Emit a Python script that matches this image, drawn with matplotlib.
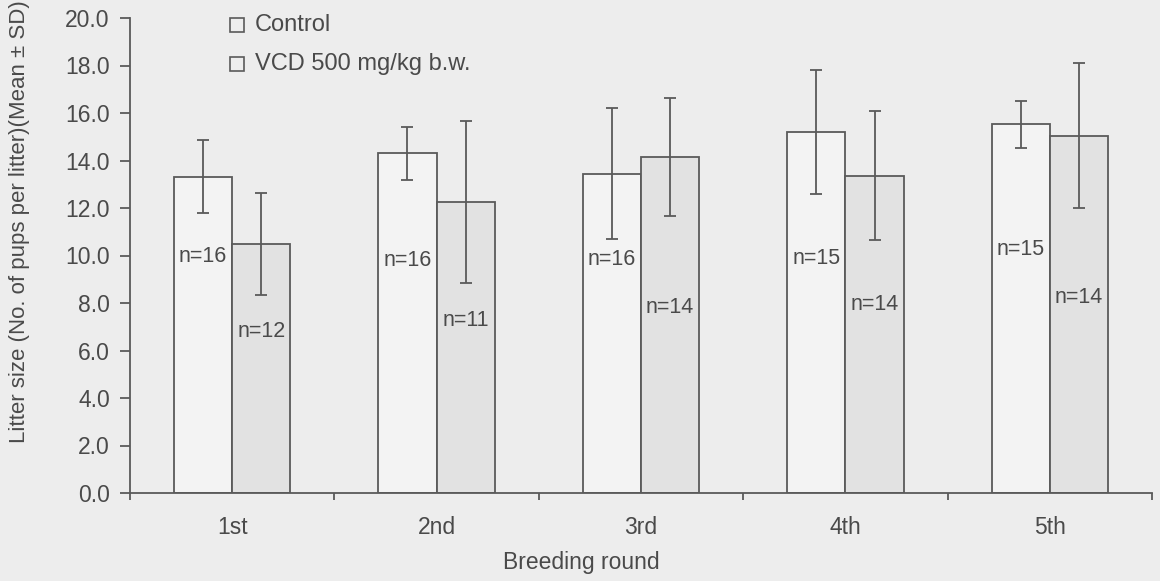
import numpy as np
import matplotlib.pyplot as plt
from matplotlib.patches import Rectangle

plt.rcParams['font.family'] = ['Liberation Sans', 'DejaVu Sans']

rounds = ['1st', '2nd', '3rd', '4th', '5th']
control_mean = [13.32, 14.30, 13.45, 15.19, 15.52]
control_sd = [1.54, 1.13, 2.77, 2.62, 0.99]
control_n = ['n=16', 'n=16', 'n=16', 'n=15', 'n=15']
control_n_y = [9.95, 9.81, 9.84, 9.88, 10.26]

vcd_mean = [10.48, 12.24, 14.16, 13.36, 15.05]
vcd_sd = [2.14, 3.41, 2.48, 2.71, 3.04]
vcd_n = ['n=12', 'n=11', 'n=14', 'n=14', 'n=14']
vcd_n_y = [6.82, 7.28, 7.80, 7.92, 8.24]

y_ticks = [0, 2, 4, 6, 8, 10, 12, 14, 16, 18, 20]

bg = '#ededed'
edge = '#5a5a5a'
text_c = '#4a4a4a'
ctrl_face = '#f3f3f3'
vcd_face = '#e2e2e2'
fs = 16.5

fig = plt.figure(figsize=(11.6, 5.81), dpi=100, facecolor=bg)
ax = fig.add_axes([130 / 1160, 1 - 493 / 581, 1022 / 1160, 475 / 581])
ax.set_facecolor(bg)

x = np.arange(len(rounds))
w = 0.285
err_kw = dict(ecolor=edge, elinewidth=1.3, capsize=4, capthick=1.3)
ax.bar(x - w / 2, control_mean, w, yerr=control_sd, color=ctrl_face,
       edgecolor=edge, linewidth=1.3, error_kw=err_kw, zorder=2)
ax.bar(x + w / 2, vcd_mean, w, yerr=vcd_sd, color=vcd_face,
       edgecolor=edge, linewidth=1.3, error_kw=err_kw, zorder=2)

for i in range(len(rounds)):
    ax.text(x[i] - w / 2, control_n_y[i], control_n[i], ha='center',
            va='center', fontsize=15.5, color=text_c, zorder=3)
    ax.text(x[i] + w / 2, vcd_n_y[i], vcd_n[i], ha='center',
            va='center', fontsize=15.5, color=text_c, zorder=3)

ax.set_xlim(-0.5, len(rounds) - 0.5)
ax.set_ylim(0, 20)
ax.set_yticks(y_ticks)
ax.set_yticklabels([f'{v:.1f}' for v in y_ticks])

# category labels centred, ticks on category boundaries
ax.set_xticks(x)
ax.set_xticklabels(rounds)
ax.set_xticks(np.arange(-0.5, len(rounds), 1.0), minor=True)
ax.tick_params(axis='x', which='major', length=0, pad=16.5, labelsize=fs,
               labelcolor=text_c)
ax.tick_params(axis='x', which='minor', length=5, width=1.3, color=edge,
               direction='out')
ax.tick_params(axis='y', length=7, width=1.3, color=edge, pad=7.5,
               labelsize=fs, labelcolor=text_c)

for s in ['top', 'right']:
    ax.spines[s].set_visible(False)
for s in ['left', 'bottom']:
    ax.spines[s].set_color(edge)
    ax.spines[s].set_linewidth(1.3)

fig.text(581 / 1160, 1 - 563 / 581, 'Breeding round', ha='center',
         va='center', fontsize=fs, color=text_c)
fig.text(20 / 1160, 1 - 222 / 581,
         'Litter size (No. of pups per litter)(Mean \u00b1 SD)',
         rotation=90, ha='center', va='center', fontsize=16, color=text_c)

# legend drawn as outlined squares with labels
for lab, ly in [('Control', 25), ('VCD 500 mg/kg b.w.', 64)]:
    fig.patches.append(Rectangle((230 / 1160, 1 - (ly + 7) / 581),
                                 14 / 1160, 14 / 581, transform=fig.transFigure,
                                 facecolor=bg, edgecolor=edge, linewidth=1.2))
    fig.text(255 / 1160, 1 - ly / 581, lab, ha='left', va='center',
             fontsize=17, color=text_c)

fig.savefig('out.png', dpi=100, facecolor=bg)
